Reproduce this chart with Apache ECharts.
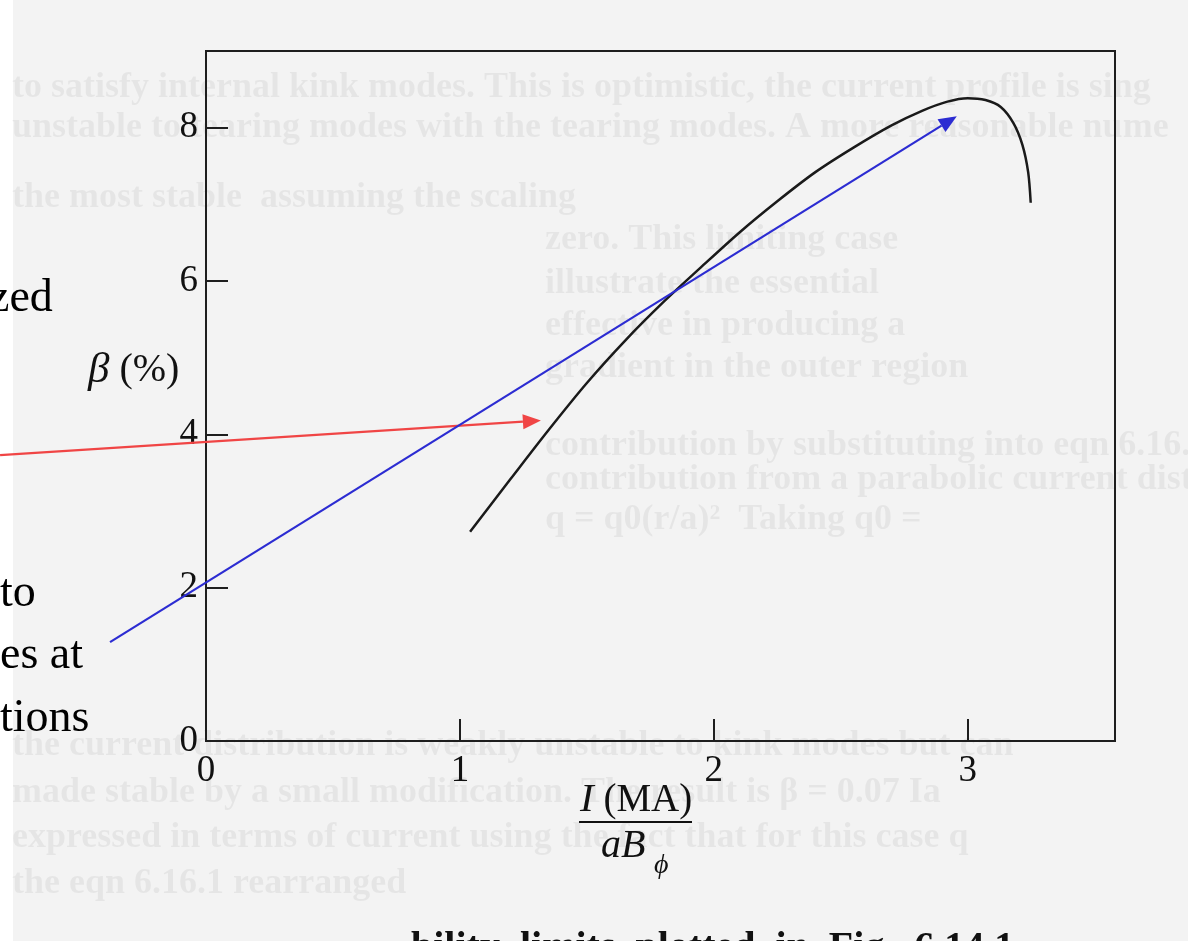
<!DOCTYPE html>
<html>
<head>
<meta charset="utf-8">
<title>beta limit vs normalised current</title>
<script src="https://cdn.jsdelivr.net/npm/echarts@6.0.0/dist/echarts.min.js"></script>
<style>
  html, body { margin: 0; padding: 0; background: #f3f3f3; }
  #chart { width: 1188px; height: 941px; }
</style>
</head>
<body>
<div id="chart"></div>
<script>
// curve: normalised current I/(aB) vs beta (%)
const currentNorm = [1.04, 1.20, 1.35, 1.50, 1.65, 1.80, 1.95, 2.10, 2.25, 2.40, 2.55, 2.70, 2.82, 2.92, 3.00, 3.07, 3.13, 3.18, 3.215, 3.238, 3.248];
const betaPct = [2.73, 3.42, 4.06, 4.67, 5.22, 5.72, 6.18, 6.63, 7.04, 7.42, 7.74, 8.03, 8.22, 8.34, 8.385, 8.36, 8.27, 8.06, 7.78, 7.42, 7.02];

const xTicks = [0, 1, 2, 3];
const yTicks = [0, 2, 4, 6, 8];

// annotation arrows pasted over the figure, [from, to] in data units
const blueArrow = [[-0.378, 1.29], [2.957, 8.15]];
const redArrow = [[-0.811, 3.73], [1.319, 4.18]];

const serif = 'Liberation Serif, Times New Roman, serif';

const chart = echarts.init(document.getElementById('chart'));

const option = {
  backgroundColor: '#f3f3f3',
  animation: false,
  grid: {
    left: 206,
    top: 51,
    right: 73,
    bottom: 200,
    show: true,
    borderColor: '#1e1e1e',
    borderWidth: 2,
    backgroundColor: 'transparent'
  },
  xAxis: {
    type: 'value',
    min: 0,
    max: 3.58,
    splitLine: { show: false },
    axisLine: { show: true, lineStyle: { color: '#1e1e1e', width: 2 } },
    axisTick: {
      show: true,
      inside: true,
      length: 22,
      customValues: [1, 2, 3],
      lineStyle: { color: '#1e1e1e', width: 2 }
    },
    axisLabel: {
      customValues: xTicks,
      margin: 12,
      color: '#111',
      fontFamily: serif,
      fontSize: 37
    }
  },
  yAxis: {
    type: 'value',
    min: 0,
    max: 9,
    splitLine: { show: false },
    axisLine: { show: true, lineStyle: { color: '#1e1e1e', width: 2 } },
    axisTick: {
      show: true,
      inside: true,
      length: 22,
      customValues: [2, 4, 6, 8],
      lineStyle: { color: '#1e1e1e', width: 2 }
    },
    axisLabel: {
      customValues: yTicks,
      margin: 8,
      color: '#111',
      fontFamily: serif,
      fontSize: 37
    }
  },
  series: [
    {
      type: 'line',
      data: currentNorm.map((x, i) => [x, betaPct[i]]),
      smooth: 0.3,
      symbol: 'none',
      lineStyle: { color: '#1a1a1a', width: 2.5 }
    }
  ]
};

chart.setOption(option);

// ghost text showing through the scanned page
const ghostLines = [
  [12, 70, 'to satisfy internal kink modes. This is optimistic, the current profile is sing'],
  [12, 110, 'unstable to tearing modes with the tearing modes. A more reasonable nume'],
  [12, 180, 'the most stable  assuming the scaling'],
  [545, 222, 'zero. This limiting case'],
  [545, 266, 'illustrate the essential'],
  [545, 308, 'effective in producing a'],
  [545, 350, 'gradient in the outer region'],
  [545, 428, 'contribution by substituting into eqn 6.16.2 the'],
  [545, 462, 'contribution from a parabolic current distribution with q0 = 1, that is'],
  [545, 502, 'q = q0(r/a)²  Taking q0 ='],
  [12, 728, 'the current distribution is weakly unstable to kink modes but can'],
  [12, 775, 'made stable by a small modification. The result is β = 0.07 Ia'],
  [12, 820, 'expressed in terms of current using the fact that for this case q'],
  [12, 866, 'the eqn 6.16.1 rearranged']
];

function arrowGraphics(seg, color) {
  const p0 = chart.convertToPixel({ gridIndex: 0 }, seg[0]);
  const p1 = chart.convertToPixel({ gridIndex: 0 }, seg[1]);
  const dx = p1[0] - p0[0];
  const dy = p1[1] - p0[1];
  const len = Math.sqrt(dx * dx + dy * dy);
  const ux = dx / len, uy = dy / len;
  const headLen = 18, headHalf = 7.5;
  const bx = p1[0] - ux * headLen, by = p1[1] - uy * headLen;
  return [
    {
      type: 'line',
      shape: { x1: p0[0], y1: p0[1], x2: bx, y2: by },
      style: { stroke: color, lineWidth: 2.2 },
      z: 20
    },
    {
      type: 'polygon',
      shape: {
        points: [
          [p1[0], p1[1]],
          [bx - uy * headHalf, by + ux * headHalf],
          [bx + uy * headHalf, by - ux * headHalf]
        ]
      },
      style: { fill: color },
      z: 20
    }
  ];
}

const graphics = [
  // white margin of the slide on the far left
  { type: 'rect', shape: { x: 0, y: 0, width: 13, height: 941 }, style: { fill: '#ffffff' }, z: -10 }
];

ghostLines.forEach(g => {
  graphics.push({
    type: 'text',
    left: g[0],
    top: g[1],
    style: {
      text: g[2],
      fill: 'rgba(0,0,0,0.055)',
      font: 'bold 36px ' + serif,
      textShadowColor: 'rgba(0,0,0,0.08)',
      textShadowBlur: 4
    },
    z: -5
  });
});

// y axis name
graphics.push({
  type: 'text',
  left: 88,
  top: 349,
  style: {
    text: '{b|β} (%)',
    fill: '#111',
    font: '40px ' + serif,
    rich: { b: { fontStyle: 'italic', fontFamily: serif, fontSize: 43, fill: '#111' } }
  },
  z: 10
});

// x axis name as a fraction: I (MA) over aB_phi
graphics.push(
  {
    type: 'text',
    left: 580,
    top: 780,
    style: {
      text: '{i|I} (MA)',
      fill: '#111',
      font: '39px ' + serif,
      rich: { i: { fontStyle: 'italic', fontFamily: serif, fontSize: 41, fill: '#111' } }
    },
    z: 10
  },
  {
    type: 'line',
    shape: { x1: 579, y1: 822, x2: 692, y2: 822 },
    style: { stroke: '#111', lineWidth: 2 },
    z: 10
  },
  {
    type: 'text',
    left: 601,
    top: 826,
    style: { text: 'aB', fill: '#111', font: 'italic 40px ' + serif },
    z: 10
  },
  {
    type: 'text',
    left: 654,
    top: 852,
    style: { text: 'ϕ', fill: '#111', font: 'italic 28px ' + serif },
    z: 10
  }
);

// cut-off text from the neighbouring slide
[
  [-11, 276, 'zed'],
  [0, 571, 'to'],
  [0, 633, 'es at'],
  [0, 696, 'tions']
].forEach(t => {
  graphics.push({
    type: 'text',
    left: t[0],
    top: t[1],
    style: { text: t[2], fill: '#000', font: '46px ' + serif },
    z: 15
  });
});

// caption line, cut at the bottom edge
graphics.push({
  type: 'text',
  left: 411,
  top: 929,
  style: { text: 'bility  limits  plotted  in  Fig.  6.14.1', fill: '#111', font: 'bold 40px ' + serif },
  z: 10
});

graphics.push(...arrowGraphics(redArrow, '#f04545'));
graphics.push(...arrowGraphics(blueArrow, '#2c2cd2'));

chart.setOption({ graphic: graphics });
</script>
</body>
</html>
